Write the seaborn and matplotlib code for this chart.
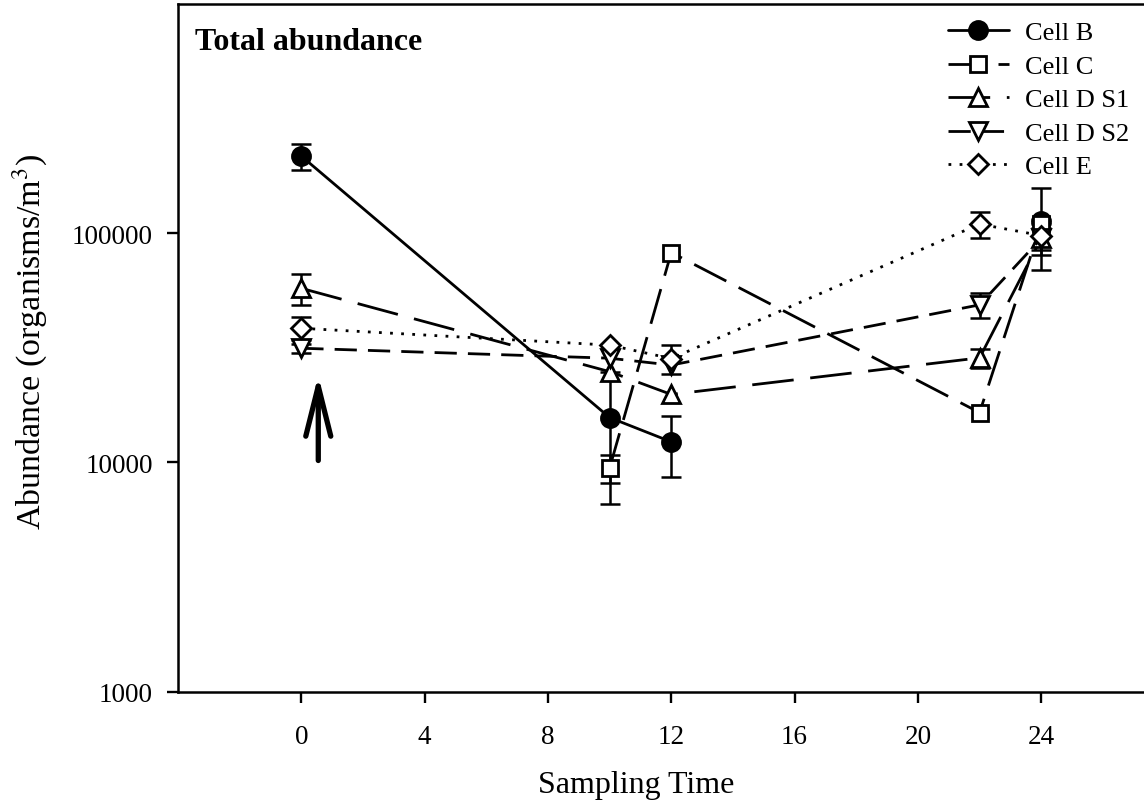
import numpy as np
import pandas as pd
import matplotlib
matplotlib.use("Agg")
import matplotlib.pyplot as plt
import seaborn as sns

# ---- data ----
# Cell B: the 24 h point is not connected to the 12 h point (gap at 22 h)
time_B = [0, 10, 12, 24]
val_B = [217000, 15700, 12300, 113000]
err_B = [29000, 9100, 3700, 44000]
seg_B = [1, 1, 1, 2]

time_C = [10, 12, 22, 24]
val_C = [9460, 82400, 16500, 110000]
err_C = [1340, 0, 0, 0]

time_DS1 = [0, 10, 12, 22, 24]
val_DS1 = [57500, 24900, 19800, 28600, 95000]
err_DS1 = [9000, 0, 0, 2700, 10500]

time_DS2 = [0, 10, 12, 22, 24]
val_DS2 = [31500, 28500, 26600, 48700, 95000]
err_DS2 = [1500, 0, 0, 6000, 15000]

time_E = [0, 10, 12, 22, 24]
val_E = [38500, 32500, 28400, 109600, 97700]
err_E = [4400, 0, 4200, 14000, 0]

x_ticks = [0, 4, 8, 12, 16, 20, 24]
y_ticks = [1000, 10000, 100000]

series = [
    ("Cell B", time_B, val_B, err_B, seg_B),
    ("Cell C", time_C, val_C, err_C, None),
    ("Cell D S1", time_DS1, val_DS1, err_DS1, None),
    ("Cell D S2", time_DS2, val_DS2, err_DS2, None),
    ("Cell E", time_E, val_E, err_E, None),
]

styles = {
    "Cell B": dict(marker="o", markersize=13, markerfacecolor="black", linestyle="-"),
    "Cell C": dict(marker="s", markersize=11, markerfacecolor="white", linestyle=(0, (13, 5))),
    "Cell D S1": dict(marker="^", markersize=12.5, markerfacecolor="white", linestyle=(0, (15, 6))),
    "Cell D S2": dict(marker="v", markersize=12.5, markerfacecolor="white", linestyle=(0, (8, 4))),
    "Cell E": dict(marker="D", markersize=10.5, markerfacecolor="white", linestyle=(0, (1, 3))),
}

sns.set_theme(style="white")
plt.rcParams["font.family"] = ["Liberation Serif", "DejaVu Serif"]
plt.rcParams["mathtext.fontset"] = "stix"
plt.rcParams["text.color"] = "black"

W, H = 1144, 812
fig = plt.figure(figsize=(W / 100, H / 100), dpi=100)
ax_left = 178 / W
ax_bottom = (H - 692.7) / H
ax_top = (H - 5) / H
ax_width = 32 * 30.83 / W
ax = fig.add_axes([ax_left, ax_bottom, ax_width, ax_top - ax_bottom])

for name, t, v, e, seg in series:
    df = pd.DataFrame({"time": t, "abundance": v})
    if seg is None:
        seg = [1] * len(t)
    df["seg"] = seg
    st = styles[name]
    for k, (sid, sub) in enumerate(df.groupby("seg")):
        sns.lineplot(data=sub, x="time", y="abundance", ax=ax, color="black",
                     linewidth=2.0, marker=st["marker"], markersize=st["markersize"],
                     markerfacecolor=st["markerfacecolor"], markeredgecolor="black",
                     markeredgewidth=2.0, linestyle=st["linestyle"],
                     label=name if k == 0 else "_nolegend_",
                     errorbar=None, zorder=3)
    tt = [ti for ti, ei in zip(t, e) if ei > 0]
    vv = [vi for vi, ei in zip(v, e) if ei > 0]
    ee = [ei for ei in e if ei > 0]
    ax.errorbar(tt, vv, yerr=ee, fmt="none", ecolor="black", elinewidth=1.8,
                capsize=7.5, capthick=1.8, zorder=2)

ax.set_yscale("log")
ax.set_xlim(-4, 28)
ax.set_ylim(1000, 1e6)
ax.set_xticks(x_ticks)
ax.set_xticklabels([str(x) for x in x_ticks])
ax.set_yticks(y_ticks)
ax.set_yticklabels([str(y) for y in y_ticks])
ax.yaxis.set_minor_locator(matplotlib.ticker.NullLocator())
ax.tick_params(axis="x", direction="out", length=8, width=1.7, pad=15,
               labelsize=19.5, bottom=True, colors="black")
ax.tick_params(axis="y", direction="out", length=8, width=1.7, pad=10,
               labelsize=19.5, left=True, colors="black")
for s in ["left", "bottom", "top"]:
    ax.spines[s].set_linewidth(1.8)
    ax.spines[s].set_color("black")
ax.spines["right"].set_visible(False)
ax.set_xlabel("")
ax.set_ylabel("")

fig.text(636 / W, 1 - 793 / H, "Sampling Time", ha="center", va="baseline",
         fontsize=23, color="black")
fig.text(30 / W, 1 - 342 / H, "Abundance (organisms/m$^3$)", ha="center", va="center",
         rotation=90, fontsize=24.5, color="black")
fig.text(195 / W, 1 - 50 / H, "Total abundance", ha="left", va="baseline",
         fontsize=23, fontweight="bold", color="black")

ax.annotate("", xy=(0.55, 24000), xytext=(0.55, 10200),
            arrowprops=dict(arrowstyle="->,head_length=1.8,head_width=0.45",
                            lw=3.8, color="black", mutation_scale=20,
                            shrinkA=0, shrinkB=0))

leg = ax.legend(loc="upper left", bbox_to_anchor=(948 / W, 1 - 22 / H),
                bbox_transform=fig.transFigure, frameon=False, fontsize=19,
                handlelength=2.3, handletextpad=0.6, labelspacing=0.38,
                borderpad=0, borderaxespad=0)
for txt in leg.get_texts():
    txt.set_color("black")

fig.savefig("out.png", dpi=100)
